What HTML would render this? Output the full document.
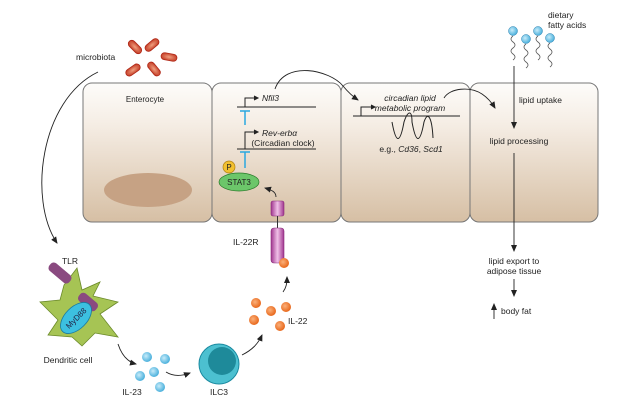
<!DOCTYPE html>
<html><head><meta charset="utf-8"><style>
body{margin:0;background:#fff}
svg{display:block;font-family:"Liberation Sans",sans-serif}
</style></head><body>
<svg width="640" height="403" viewBox="0 0 640 403" xmlns="http://www.w3.org/2000/svg">
<defs>
<linearGradient id="cg" x1="0" y1="0" x2="0" y2="1">
<stop offset="0" stop-color="#fdfcfa"/><stop offset="0.3" stop-color="#f5ede4"/><stop offset="1" stop-color="#d6bfa4"/></linearGradient>
<radialGradient id="bac" cx="0.5" cy="0.5" r="0.6"><stop offset="0" stop-color="#f0a080"/><stop offset="1" stop-color="#c0341e"/></radialGradient>
<radialGradient id="bl" cx="0.4" cy="0.4" r="0.6"><stop offset="0" stop-color="#c8ecfa"/><stop offset="1" stop-color="#4ab0dc"/></radialGradient>
<radialGradient id="or" cx="0.4" cy="0.4" r="0.6"><stop offset="0" stop-color="#fbb07a"/><stop offset="1" stop-color="#e8681c"/></radialGradient>
<linearGradient id="pu" x1="0" y1="0" x2="1" y2="0"><stop offset="0" stop-color="#a0358e"/><stop offset="0.5" stop-color="#f0c0e8"/><stop offset="1" stop-color="#a0358e"/></linearGradient>
<marker id="a" markerWidth="8" markerHeight="8" refX="6" refY="4" orient="auto" markerUnits="userSpaceOnUse"><path d="M0,1 L7,4 L0,7 Z" fill="#222"/></marker>
</defs>
<g stroke="#777" stroke-width="1" fill="url(#cg)">
<rect x="83" y="83" width="129" height="139" rx="9"/>
<rect x="212" y="83" width="129" height="139" rx="9"/>
<rect x="341" y="83" width="129" height="139" rx="9"/>
<rect x="470" y="83" width="128" height="139" rx="9"/>
</g>
<ellipse cx="148" cy="190" rx="44" ry="17" fill="#c6a284"/>
<text x="145" y="102" font-size="8" text-anchor="middle" fill="#222">Enterocyte</text>
<text x="76" y="60" font-size="8.5" fill="#222">microbiota</text>
<g fill="url(#bac)" stroke="#b02818" stroke-width="0.8">
<rect x="-8" y="-3.5" width="16" height="7" rx="3.5" transform="translate(135,47) rotate(45)"/>
<rect x="-8" y="-3.5" width="16" height="7" rx="3.5" transform="translate(152,45) rotate(-40)"/>
<rect x="-8" y="-3.5" width="16" height="7" rx="3.5" transform="translate(169,57) rotate(10)"/>
<rect x="-8" y="-3.5" width="16" height="7" rx="3.5" transform="translate(133,70) rotate(-35)"/>
<rect x="-8" y="-3.5" width="16" height="7" rx="3.5" transform="translate(154,69) rotate(50)"/>
</g>
<g fill="none" stroke="#222" stroke-width="0.9">
<path d="M98,72 C40,100 28,200 57,243" marker-end="url(#a)"/>
<path d="M118,344 C122,356 128,362 136,364" marker-end="url(#a)"/>
<path d="M166,372 C174,377 182,376 190,373" marker-end="url(#a)"/>
<path d="M242,355 C252,350 258,344 262,335" marker-end="url(#a)"/>
<path d="M283,292 C286,288 287,284 287,277" marker-end="url(#a)"/>
<path d="M276,197 C276,192 272,190 265,188" marker-end="url(#a)"/>
<path d="M275,89 C285,60 330,70 343,86 C348,92 352,96 358,100" marker-end="url(#a)"/>
<path d="M444,98 C450,88 470,86 482,94 C488,98 492,103 495,108" marker-end="url(#a)"/>
<path d="M514,66 L514,128" marker-end="url(#a)"/>
<path d="M514,153 L514,251" marker-end="url(#a)"/>
<path d="M514,279 L514,296" marker-end="url(#a)"/>
<path d="M494,319 L494,304" marker-end="url(#a)"/>
</g>
<text x="70" y="264" font-size="8.5" text-anchor="middle" fill="#222">TLR</text>
<path d="M77,268 L82,290 L100,282 L93,296 L118,302 L100,314 L118,337 L95,333 L82,346 L72,337 L48,335 L58,320 L40,302 L60,300 L64,285 Z" fill="#a6c454" stroke="#6b8a2a" stroke-width="0.8"/>
<rect x="-13" y="-5" width="26" height="10" rx="4" fill="#8a4a80" transform="translate(60,273) rotate(40)"/>
<rect x="-11" y="-5" width="22" height="10" rx="4" fill="#8a4a80" transform="translate(88,302) rotate(40)"/>
<ellipse cx="76" cy="318" rx="19" ry="11" fill="#3cc0e0" stroke="#1a7aa0" stroke-width="0.8" transform="rotate(-45 76 318)"/>
<text x="76" y="321" font-size="8" text-anchor="middle" fill="#224" transform="rotate(-45 76 318)">MyD88</text>
<text x="68" y="363" font-size="8.5" text-anchor="middle" fill="#222">Dendritic cell</text>
<g fill="url(#bl)"><circle cx="147" cy="357" r="5"/><circle cx="165" cy="359" r="5"/><circle cx="140" cy="376" r="5"/><circle cx="154" cy="372" r="5"/><circle cx="160" cy="387" r="5"/></g>
<text x="132" y="395" font-size="8.5" text-anchor="middle" fill="#222">IL-23</text>
<circle cx="219" cy="364" r="20" fill="#4cc0d0" stroke="#1a8aa0"/>
<circle cx="222" cy="361" r="14" fill="#1e8a9a"/>
<text x="219" y="395" font-size="8.5" text-anchor="middle" fill="#222">ILC3</text>
<g fill="url(#or)"><circle cx="256" cy="303" r="5"/><circle cx="271" cy="311" r="5"/><circle cx="286" cy="307" r="5"/><circle cx="254" cy="320" r="5"/><circle cx="280" cy="326" r="5"/></g>
<text x="288" y="324" font-size="8.5" fill="#222">IL-22</text>
<rect x="271" y="201" width="13" height="15" rx="2" fill="url(#pu)" stroke="#8a2a7a" stroke-width="0.6"/>
<line x1="277.5" y1="216" x2="277.5" y2="228" stroke="#333"/>
<rect x="271" y="228" width="13" height="35" rx="3" fill="url(#pu)" stroke="#8a2a7a" stroke-width="0.6"/>
<circle cx="284" cy="263" r="5" fill="url(#or)"/>
<text x="233" y="245" font-size="8.5" fill="#222">IL-22R</text>
<ellipse cx="239" cy="182" rx="20" ry="9" fill="#6cc66a" stroke="#2a7a2a" stroke-width="0.7"/>
<text x="239" y="185" font-size="8" text-anchor="middle" fill="#222">STAT3</text>
<circle cx="229" cy="167" r="6" fill="#f2c030" stroke="#b08010" stroke-width="0.7"/>
<text x="229" y="170" font-size="8" text-anchor="middle" fill="#222">P</text>
<g stroke="#2aa8e0" stroke-width="1.5"><path d="M245,168 V152 M240,152 H250"/><path d="M245,125 V111 M240,111 H250"/></g>
<g stroke="#222" stroke-width="1" fill="none">
<path d="M237,107 H316"/><path d="M245,107 V98 H257"/><path d="M254,96 L258,98 L254,100" fill="#222"/>
<path d="M237,149 H316"/><path d="M245,149 V132 H257"/><path d="M254,130 L258,132 L254,134" fill="#222"/>
<path d="M353,116 H460"/><path d="M361,116 V107 H374"/><path d="M371,105 L375,107 L371,109" fill="#222"/>
<path d="M392,122 C396,144 400,144 404,122 C408,110 412,110 412,122 C416,144 420,144 424,122 C428,110 432,118 433,138"/>
</g>
<text x="262" y="101" font-size="8.5" font-style="italic" fill="#222">Nfil3</text>
<text x="262" y="136" font-size="8.5" font-style="italic" fill="#222">Rev-erbα</text>
<text x="283" y="146" font-size="8.5" text-anchor="middle" fill="#222">(Circadian clock)</text>
<text x="410" y="101" font-size="8.5" font-style="italic" text-anchor="middle" fill="#222">circadian lipid</text>
<text x="410" y="111" font-size="8.5" font-style="italic" text-anchor="middle" fill="#222">metabolic program</text>
<text x="411" y="152" font-size="8.5" text-anchor="middle" fill="#222">e.g., <tspan font-style="italic">Cd36</tspan>, <tspan font-style="italic">Scd1</tspan></text>
<g fill="none" stroke="#555" stroke-width="0.8">
<path d="M513,36 q-4,3 0,6 q4,3 0,6 q-4,3 0,6 q4,3 0,6"/>
<path d="M526,44 q-4,3 0,6 q4,3 0,6 q-4,3 0,6 q4,3 0,6"/>
<path d="M538,36 q-4,3 0,6 q4,3 0,6 q-4,3 0,6 q4,3 0,6"/>
<path d="M550,43 q-4,3 0,6 q4,3 0,6 q-4,3 0,6 q4,3 0,6"/>
</g>
<g fill="url(#bl)" stroke="#2a80b0" stroke-width="0.5"><circle cx="513" cy="31" r="4.5"/><circle cx="526" cy="39" r="4.5"/><circle cx="538" cy="31" r="4.5"/><circle cx="550" cy="38" r="4.5"/></g>
<text x="548" y="18" font-size="8.5" fill="#222">dietary</text>
<text x="548" y="28" font-size="8.5" fill="#222">fatty acids</text>
<text x="519" y="103" font-size="8.5" fill="#222">lipid uptake</text>
<text x="519" y="144" font-size="8.5" text-anchor="middle" fill="#222">lipid processing</text>
<text x="514" y="264" font-size="8.5" text-anchor="middle" fill="#222">lipid export to</text>
<text x="514" y="274" font-size="8.5" text-anchor="middle" fill="#222">adipose tissue</text>
<text x="501" y="314" font-size="8.5" fill="#222">body fat</text>
</svg>
</body></html>
